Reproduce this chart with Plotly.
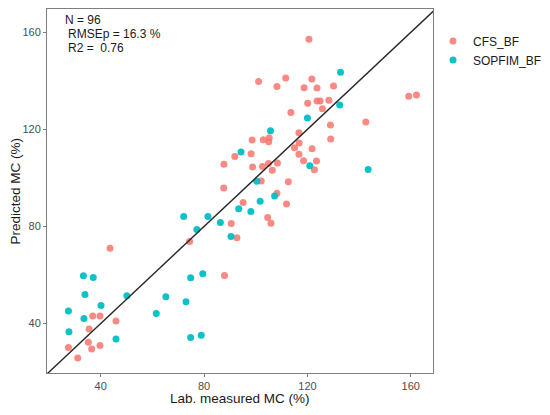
import plotly.graph_objects as go

# lab measured vs predicted moisture content (%)
cfs_x = [43.6, 36.9, 39.7, 45.9, 35.5, 35.2, 27.5, 36.5, 39.7, 31.1,
         87.9, 74.4, 90.5, 92.7, 87.6, 87.7, 91.9, 98.2, 98.8, 102.6,
         104.9, 108.4, 106.4, 102.1, 108.2, 95.1, 104.6, 105.9, 112.6, 111.9,
         120.6, 101.1, 111.6, 108.2, 121.7, 118.7, 123.7, 130.1, 120.1, 123.7,
         124.9, 128.3, 125.8, 113.6, 128.9, 142.6, 116.7, 98.6, 102.9, 105.2,
         105.0, 129.0, 116.8, 115.0, 121.8, 116.7, 118.5, 123.5, 122.7, 159.2,
         162.2]
cfs_y = [71.0, 43.1, 43.1, 41.0, 37.7, 32.3, 30.1, 29.5, 30.9, 25.8,
         59.8, 73.8, 81.2, 75.3, 95.8, 105.6, 108.8, 110.0, 104.5, 104.7,
         105.9, 106.1, 103.2, 98.7, 93.7, 89.9, 83.7, 81.3, 98.4, 89.2,
         157.1, 139.7, 141.2, 137.7, 140.8, 137.1, 137.0, 137.9, 130.8, 131.7,
         131.7, 132.0, 128.5, 126.9, 121.8, 123.0, 118.6, 115.6, 115.7, 116.5,
         114.9, 116.0, 114.4, 112.4, 112.0, 109.7, 107.1, 107.0, 103.4, 133.6,
         134.2]

sop_x = [33.3, 37.1, 33.9, 50.1, 65.2, 40.1, 27.5, 61.5, 33.5, 27.7,
         45.9, 73.0, 74.8, 79.5, 74.8, 78.9, 72.1, 77.2, 81.5, 86.3,
         90.4, 93.4, 98.1, 101.7, 107.3, 100.4, 94.3, 105.7, 120.0, 132.5,
         132.8, 120.9, 143.5]
sop_y = [59.7, 59.0, 51.9, 51.4, 51.0, 47.4, 45.2, 44.1, 42.1, 36.6,
         33.6, 49.0, 58.9, 60.5, 34.2, 35.2, 84.1, 78.7, 84.1, 81.6,
         75.9, 87.3, 86.2, 90.4, 92.5, 98.6, 110.7, 119.4, 124.7, 130.0,
         143.5, 105.0, 103.5]

ticks = [40, 80, 120, 160]
stats_lines = ["N = 96", "RMSEp = 16.3 %", "R2 =  0.76"]
x_title = "Lab. measured MC (%)"
y_title = "Predicted MC (%)"
one_to_one = [0, 200]

fig = go.Figure()
fig.add_trace(go.Scatter(x=cfs_x, y=cfs_y, mode="markers", name="CFS_BF",
                         marker=dict(color="#F8766D", size=7, opacity=0.85)))
fig.add_trace(go.Scatter(x=sop_x, y=sop_y, mode="markers", name="SOPFIM_BF",
                         marker=dict(color="#00BFC4", size=7, opacity=0.95)))
fig.add_trace(go.Scatter(x=one_to_one, y=one_to_one, mode="lines", showlegend=False,
                         line=dict(color="#262626", width=1.4), hoverinfo="skip"))

# stats block in the top-left corner
for i, txt in enumerate(stats_lines):
    fig.add_annotation(x=0.042 + (0.008 if i else 0), y=0.995 - i * 0.0385,
                       xref="paper", yref="paper", text=txt, showarrow=False,
                       xanchor="left", yanchor="top",
                       font=dict(size=12, color="#1a1a1a"))

# axis titles as annotations so they sit where ggplot put them
title_font = dict(size=13.5, color="#1a1a1a")
fig.add_annotation(x=0.5, y=0, xref="paper", yref="paper", text=x_title,
                   showarrow=False, xanchor="center", yanchor="top", yshift=-16,
                   font=title_font)
fig.add_annotation(x=0, y=0.5, xref="paper", yref="paper", text=y_title,
                   showarrow=False, xanchor="right", yanchor="middle", xshift=-23,
                   textangle=-90, font=title_font)

axis_style = dict(
    tickvals=ticks, ticks="outside", ticklen=3, tickcolor="#7f7f7f",
    tickfont=dict(size=11, color="#4d4d4d"), showgrid=False, zeroline=False,
    showline=True, linecolor="#7f7f7f", linewidth=1, mirror=True,
    automargin=False,
)
fig.update_xaxes(range=[19.2, 168.6], **axis_style)
fig.update_yaxes(range=[19.6, 169.6], **axis_style)

# the page puts the figure 8px in from the top-left, so margins compensate
fig.update_layout(
    width=550, height=415,
    margin=dict(l=39, r=125, t=1, b=50),
    plot_bgcolor="white", paper_bgcolor="white",
    font=dict(family="Liberation Sans, Arial, sans-serif"),
    legend=dict(x=1.0, y=0.952, xanchor="left", yanchor="top",
                font=dict(size=12, color="#1a1a1a"), itemwidth=30,
                bgcolor="rgba(0,0,0,0)"),
)

fig.write_html("out.html")
